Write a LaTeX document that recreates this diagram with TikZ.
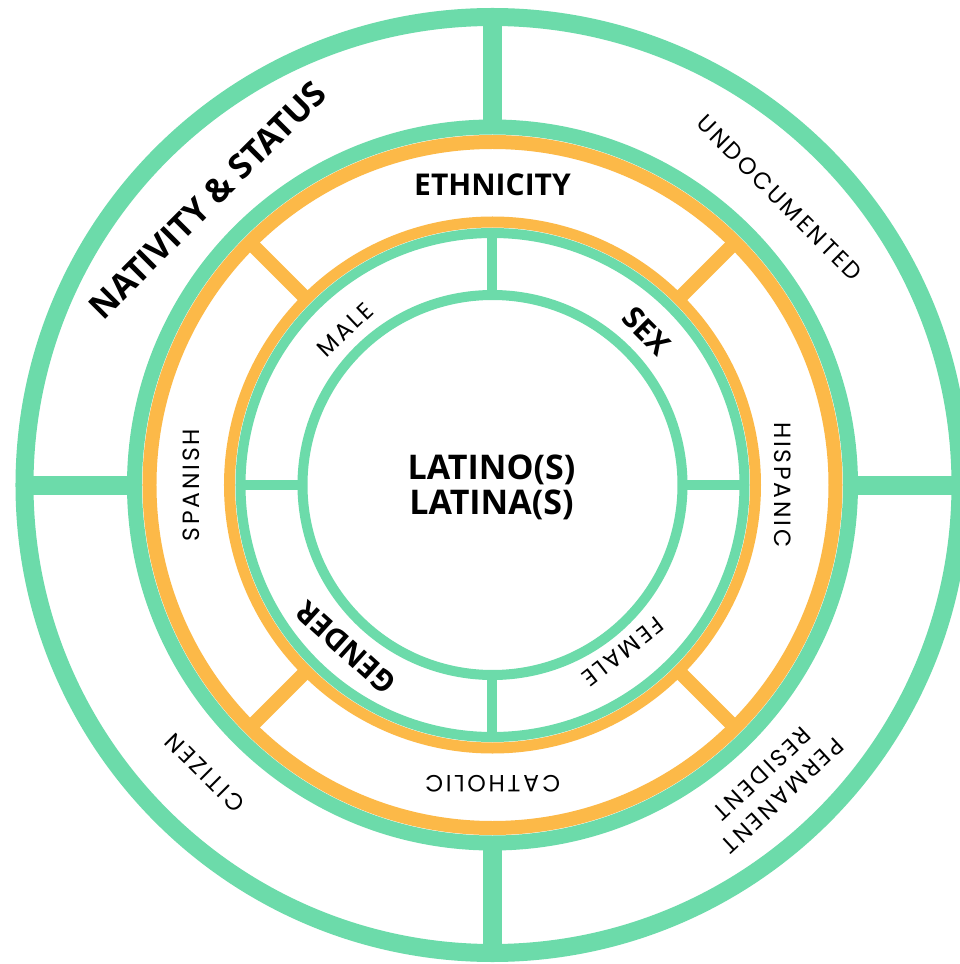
\documentclass[tikz,border=0pt]{standalone}
\usepackage{fontspec}
\setmainfont{Open Sans}
\newfontfamily\thinfont[LetterSpace=12]{Poppins}
\definecolor{ringgreen}{RGB}{108,219,170}
\definecolor{ringorange}{RGB}{252,185,72}
\begin{document}
\begin{tikzpicture}[x=1pt,y=1pt,
  boldlabel/.style={font=\bfseries\fontsize{30}{30}\selectfont, inner sep=0pt, text=black},
  thinlabel/.style={font=\thinfont\fontsize{23.5}{30}\selectfont, inner sep=0pt, text=black, align=center},
  greenring/.style={draw=ringgreen, line width=#1},
  orangering/.style={draw=ringorange, line width=#1}]
\useasboundingbox (-492.5,-479) rectangle (466.5,485);
\fill[white] (-492.5,-479) rectangle (466.5,485);
% spokes
\foreach \a in {0,90,180,270}{
  \draw[ringgreen, line width=19pt] (\a:358) -- (\a:468);
  \draw[ringgreen, line width=10pt] (\a:190) -- (\a:252);
}
\foreach \a in {45,135,225,315}{
  \draw[ringorange, line width=14pt] (\a:263) -- (\a:343);
}
% rings
\draw[greenring=18pt] (0,0) circle[radius=468];
\draw[greenring=15pt] (0,0) circle[radius=358];
\draw[orangering=14pt] (0,0) circle[radius=343];
\draw[orangering=11pt] (0,0) circle[radius=263];
\draw[greenring=10pt] (0,0) circle[radius=252];
\draw[greenring=10pt] (0,0) circle[radius=190];
% centre
\node[font=\bfseries\fontsize{34}{35}\selectfont, align=center, inner sep=0pt] (core) at (-1,-2) {LATINO(S)\\LATINA(S)};
% inner band
\node[thinlabel, rotate=43.5] (male) at (133.5:214) {MALE};
\node[boldlabel, rotate=-45] (sex) at (45:218) {SEX};
\node[thinlabel, rotate=-142] (female) at (-52:212) {FEMALE};
\node[boldlabel, rotate=138] (gender) at (228:219) {GENDER};
% orange band
\node[boldlabel] (ethnicity) at (90:300) {ETHNICITY};
\node[thinlabel, rotate=-90] (hispanic) at (0:290) {HISPANIC};
\node[thinlabel, rotate=90] (spanish) at (180:301) {SPANISH};
\node[thinlabel, rotate=180] (catholic) at (270:299) {CATHOLIC};
% outer band
\node[font=\bfseries\fontsize{34}{34}\selectfont, inner sep=0pt, rotate=45] (nativity) at (135:403) {NATIVITY \& STATUS};
\node[thinlabel, rotate=-45] (undoc) at (45:406) {UNDOCUMENTED};
\node[thinlabel, rotate=135] (citizen) at (225:407) {CITIZEN};
\node[thinlabel, rotate=-137] (permres) at (-47:410) {PERMANENT\\RESIDENT};
\end{tikzpicture}
\end{document}
